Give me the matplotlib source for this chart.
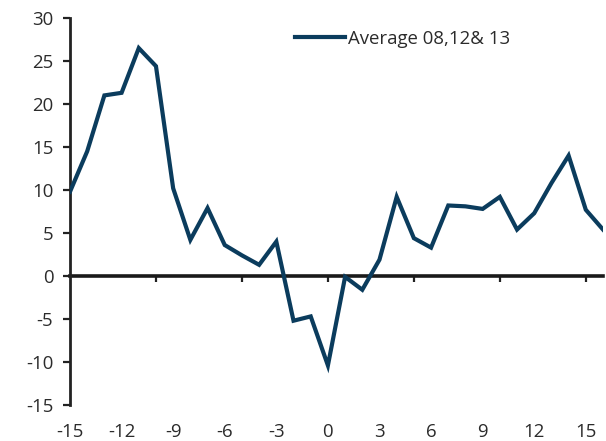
import matplotlib
matplotlib.use("Agg")
import matplotlib.pyplot as plt
import matplotlib.transforms as mtransforms

# Data
x_values = list(range(-15, 17))
avg_values = [9.8, 14.5, 21.0, 21.3, 26.5, 24.4, 10.2, 4.2, 7.9, 3.6, 2.4, 1.3, 4.0,
              -5.2, -4.7, -10.4, -0.1, -1.6, 1.9, 9.2, 4.4, 3.3, 8.2, 8.1, 7.8, 9.2,
              5.4, 7.3, 10.8, 14.0, 7.7, 5.4]
series_label = "Average 08,12& 13"
x_tick_labels = list(range(-15, 16, 3))
x_minor_marks = list(range(-10, 16, 5))
y_ticks = list(range(-15, 31, 5))

W, H = 606, 441
fig = plt.figure(figsize=(W / 100, H / 100), dpi=100)
ax = fig.add_axes([70 / W, 1 - 405 / H, (603 - 70) / W, (405 - 18) / H])

font = "Open Sans"
fs = 13.4
txt_color = "#2b2b2b"
line_color = "#0B3C5D"

ax.plot(x_values, avg_values, color=line_color, lw=3.0, solid_joinstyle="miter",
        label=series_label, zorder=3)

ax.set_xlim(-15, 16)
ax.set_ylim(-15, 30)

for s in ["top", "right"]:
    ax.spines[s].set_visible(False)
ax.spines["left"].set_linewidth(2.0)
ax.spines["left"].set_color("#222222")
ax.spines["bottom"].set_position(("data", 0))
ax.spines["bottom"].set_linewidth(2.6)
ax.spines["bottom"].set_color("#1a1a1a")
ax.spines["bottom"].set_zorder(2)

ax.set_yticks(y_ticks)
ax.set_yticklabels([str(v) for v in y_ticks], fontsize=fs, color=txt_color, fontfamily=font)
ax.tick_params(axis="y", direction="out", length=5, width=1.6, color="#222222", pad=7)

ax.set_xticks(x_minor_marks)
ax.set_xticklabels([])
ax.tick_params(axis="x", direction="out", length=4, width=1.6, color="#222222")

trans = mtransforms.blended_transform_factory(ax.transData, ax.transAxes)
for v in x_tick_labels:
    ax.text(v, -0.07, str(v), transform=trans, ha="center", va="center",
            fontsize=fs, color=txt_color, fontfamily=font)

leg = ax.legend(loc="center left", bbox_to_anchor=(295 / W, 1 - 39 / H),
                bbox_transform=fig.transFigure, frameon=False, borderpad=0,
                borderaxespad=0, handlelength=2.7, handletextpad=0.15,
                prop={"family": font, "size": fs})
for t in leg.get_texts():
    t.set_color(txt_color)

fig.savefig("out.png", dpi=100)
